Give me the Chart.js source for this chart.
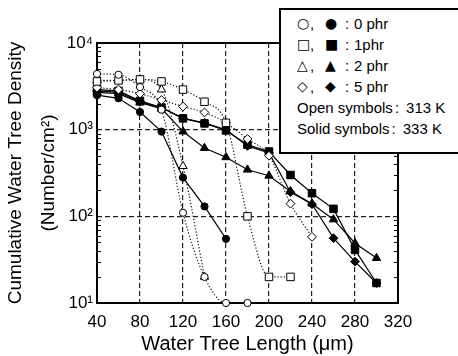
<!DOCTYPE html>
<html>
<head>
<meta charset="utf-8">
<script src="https://cdn.jsdelivr.net/npm/chart.js@4"></script>
<style>
  html, body { margin: 0; padding: 0; background: #fff; overflow: hidden; }
  #wrap { position: relative; width: 458px; height: 356px; overflow: hidden; }
  #legendBox {
    position: absolute; left: 279px; top: 8px; width: 200px; height: 139px;
    border-top: 2px solid #000; border-left: 2px solid #000; border-bottom: 2px solid #000;
    background: #fff; padding: 3px 0 0 16px; box-sizing: content-box;
    font-family: "Liberation Sans", Arial, sans-serif; font-size: 15px; color: #000;
  }
  .row { height: 21px; line-height: 21px; display: grid; grid-template-columns: 13px 15px 15px 14px auto; white-space: nowrap; }
  .row .s { font-family: "DejaVu Sans", sans-serif; font-size: 14px; }
  .row .c { text-align: center; }
  .txt { height: 21px; line-height: 21px; white-space: nowrap; }
</style>
</head>
<body>
<div id="wrap">
  <canvas id="grafico" width="458" height="356"></canvas>
  <div id="legendBox">
    <div class="row"><span class="s">○</span><span>,</span><span class="s">●</span><span class="c">:</span><span>0 phr</span></div>
    <div class="row"><span class="s">□</span><span>,</span><span class="s">■</span><span class="c">:</span><span>1phr</span></div>
    <div class="row"><span class="s">△</span><span>,</span><span class="s">▲</span><span class="c">:</span><span>2 phr</span></div>
    <div class="row"><span class="s">◇</span><span>,</span><span class="s">◆</span><span class="c">:</span><span>5 phr</span></div>
    <div class="txt">Open symbols<span style="margin-left:2px">:</span><span style="margin-left:7px">313 K</span></div>
    <div class="txt">Solid symbols<span style="margin-left:2px">:</span><span style="margin-left:7px">333 K</span></div>
  </div>
</div>
<script>
// water tree length (um) and cumulative density (number/cm2)
const len0open = [40, 60, 80, 100, 120, 140, 160, 180];
const phr0open = [4400, 4300, 3100, 1700, 110, 20, 10, 10];
const len0solid = [40, 60, 80, 100, 120, 140, 160];
const phr0solid = [2500, 2300, 1600, 950, 280, 130, 55];

const len1open = [40, 60, 80, 100, 120, 140, 160, 180, 200, 220];
const phr1open = [3600, 3700, 3800, 3600, 2900, 2100, 1200, 100, 20, 20];
const len1solid = [40, 60, 80, 100, 120, 140, 160, 180, 200, 220, 240, 260, 280, 300];
const phr1solid = [2900, 2800, 2150, 1800, 1350, 1180, 980, 670, 560, 300, 185, 122, 41, 17];

const len2open = [40, 60, 80, 100, 120, 140];
const phr2open = [3700, 3700, 3800, 2900, 380, 20];
const len2solid = [40, 60, 80, 100, 120, 140, 160, 180, 200, 220, 240, 260, 280, 300];
const phr2solid = [2700, 2600, 2050, 1750, 950, 614, 480, 345, 294, 194, 140, 92, 49, 33];

const len5open = [40, 60, 80, 100, 120, 140, 160, 180, 200, 220, 240];
const phr5open = [3050, 2900, 2600, 2200, 1850, 1580, 1200, 780, 500, 140, 58];
const len5solid = [40, 60, 80, 100, 120, 140, 160, 180, 200, 220, 240, 260, 280, 300];
const phr5solid = [2800, 2700, 2100, 1800, 1350, 1200, 1000, 650, 540, 190, 138, 56, 30, 17];

const xTicks = [40, 80, 120, 160, 200, 240, 280, 320];
const yTicks = [10, 100, 1000, 10000];
const yTickLabels = ['10¹', '10²', '10³', '10⁴'];
const yMinor = [20, 30, 40, 50, 60, 70, 80, 90, 200, 300, 400, 500, 600, 700, 800, 900,
  2000, 3000, 4000, 5000, 6000, 7000, 8000, 9000];

function pts(xs, ys) {
  return xs.map((x, i) => ({ x, y: ys[i] }));
}

function serieAbierta(xs, ys, estilo, radio) {
  return {
    data: pts(xs, ys),
    borderColor: '#111',
    borderWidth: 1.2,
    borderDash: [1.2, 2],
    cubicInterpolationMode: 'monotone',
    pointStyle: estilo,
    pointRadius: radio,
    pointBorderColor: '#000',
    pointBackgroundColor: '#fff',
    pointBorderWidth: 1,
    clip: false,
    fill: false,
  };
}

function serieSolida(xs, ys, estilo, radio) {
  return {
    data: pts(xs, ys),
    borderColor: '#000',
    borderWidth: 1.2,
    tension: 0,
    pointStyle: estilo,
    pointRadius: radio,
    pointBorderColor: '#000',
    pointBackgroundColor: '#000',
    pointBorderWidth: 1,
    clip: false,
    fill: false,
  };
}

// frame and inward minor ticks on the log axis
const marco = {
  id: 'marco',
  beforeDatasetsDraw(chart) {
    const { ctx, chartArea: a } = chart;
    const y = chart.scales.y;
    ctx.save();
    ctx.strokeStyle = '#000';
    ctx.lineWidth = 1;
    ctx.beginPath();
    yMinor.forEach(v => {
      const py = Math.round(y.getPixelForValue(v)) + 0.5;
      ctx.moveTo(a.left, py); ctx.lineTo(a.left + 4, py);
      ctx.moveTo(a.right, py); ctx.lineTo(a.right - 4, py);
    });
    ctx.stroke();
    ctx.lineWidth = 2;
    ctx.strokeRect(a.left, a.top, a.right - a.left, a.bottom - a.top);
    ctx.restore();
  }
};

const ctx = document.getElementById('grafico').getContext('2d');
new Chart(ctx, {
  type: 'line',
  data: {
    datasets: [
      serieAbierta(len0open, phr0open, 'circle', 3.6),
      serieAbierta(len1open, phr1open, 'rect', 5.3),
      serieAbierta(len2open, phr2open, 'triangle', 4.8),
      serieAbierta(len5open, phr5open, 'rectRot', 4.4),
      serieSolida(len0solid, phr0solid, 'circle', 3.6),
      serieSolida(len1solid, phr1solid, 'rect', 5.3),
      serieSolida(len2solid, phr2solid, 'triangle', 4.8),
      serieSolida(len5solid, phr5solid, 'rectRot', 4.4),
    ]
  },
  options: {
    responsive: false,
    animation: false,
    layout: { padding: { top: 43, right: 60, left: 0, bottom: 0 } },
    plugins: { legend: { display: false }, tooltip: { enabled: false } },
    scales: {
      x: {
        type: 'linear',
        min: 40,
        max: 320,
        afterBuildTicks: s => { s.ticks = xTicks.map(v => ({ value: v })); },
        afterFit: s => { s.height = 53; },
        grid: {
          drawTicks: false,
          lineWidth: 1.2,
          color: c => (c.tick && (c.tick.value === 40 || c.tick.value === 320)) ? 'rgba(0,0,0,0)' : '#222',
        },
        border: { display: false, dash: [5, 3] },
        ticks: {
          color: '#000',
          padding: 9,
          maxRotation: 0,
          font: { family: 'Liberation Sans', size: 17 },
        },
        title: {
          display: true,
          text: 'Water Tree Length (μm)',
          color: '#000',
          padding: 0,
          font: { family: 'Liberation Sans', size: 20, lineHeight: 1.2 },
        }
      },
      y: {
        type: 'logarithmic',
        min: 10,
        max: 10000,
        afterBuildTicks: s => { s.ticks = yTicks.map(v => ({ value: v })); },
        afterFit: s => { s.width = 97; },
        grid: {
          drawTicks: false,
          lineWidth: 1.2,
          color: c => (c.tick && (c.tick.value === 10 || c.tick.value === 10000)) ? 'rgba(0,0,0,0)' : '#222',
        },
        border: { display: false, dash: [5, 3] },
        ticks: {
          color: '#000',
          padding: 4,
          font: { family: 'Liberation Sans', size: 17 },
          callback: v => yTickLabels[yTicks.indexOf(v)] || '',
        },
        title: {
          display: true,
          text: ['Cumulative Water Tree Density', '(Number/cm²)'],
          color: '#000',
          padding: 0,
          font: { family: 'Liberation Sans', size: 19, lineHeight: 1.7 },
        }
      }
    }
  },
  plugins: [marco]
});
</script>
</body>
</html>
